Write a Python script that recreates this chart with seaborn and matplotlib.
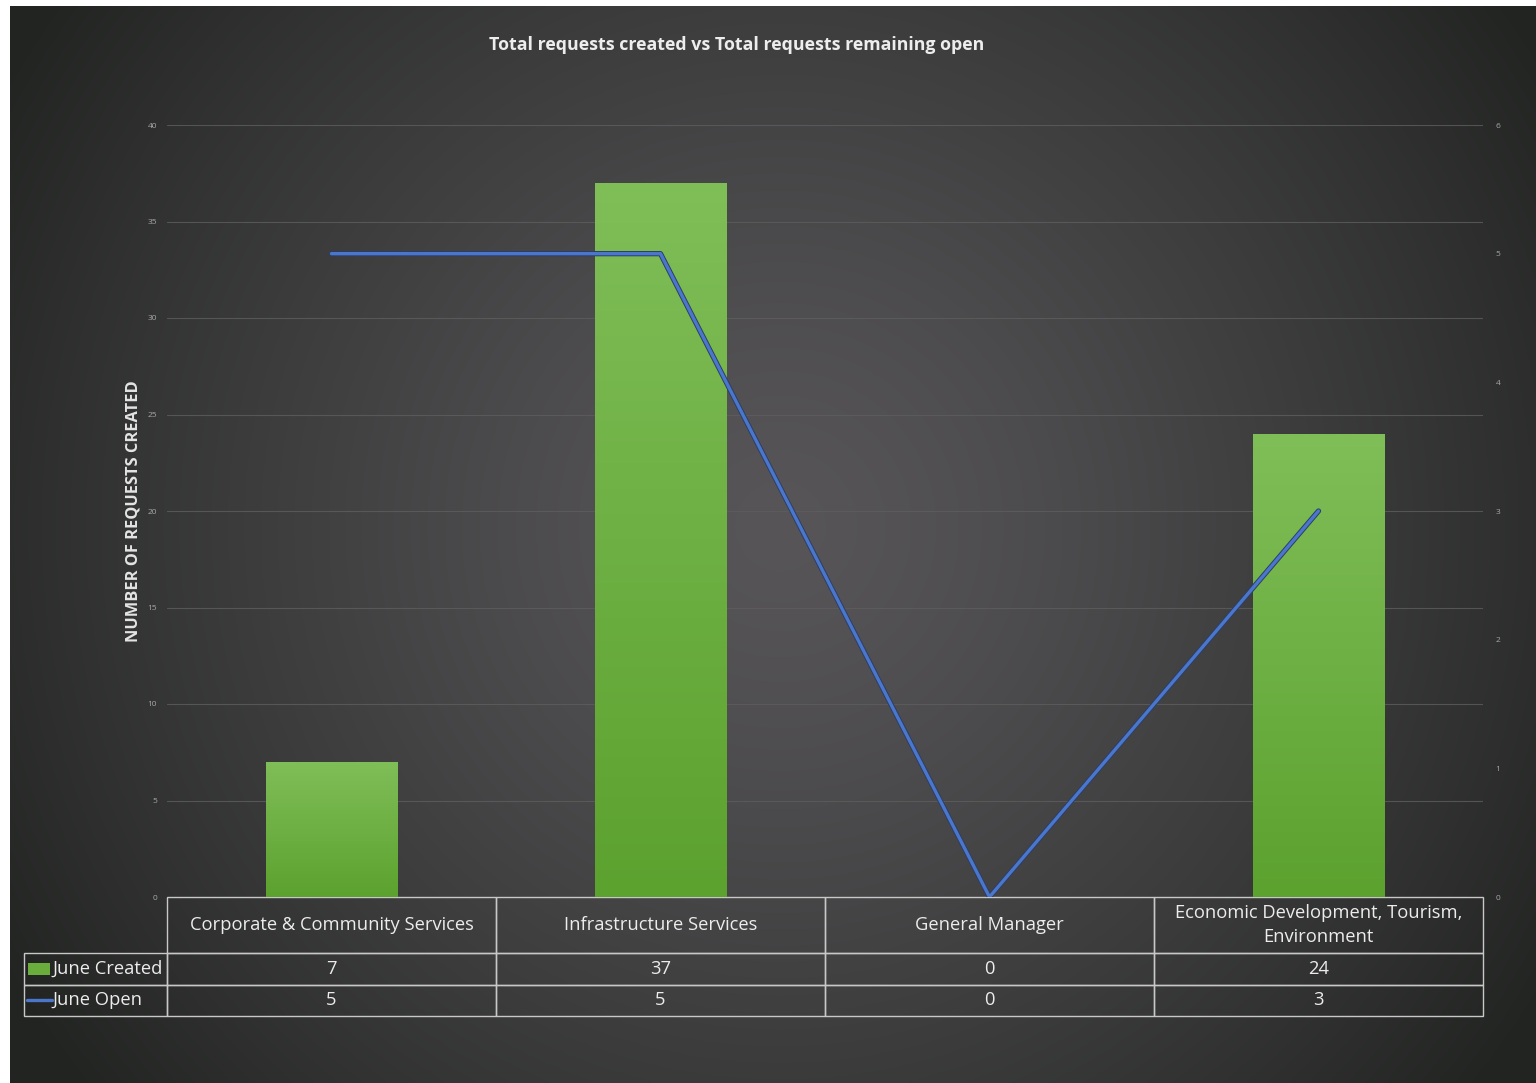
import numpy as np
import pandas as pd
import matplotlib.pyplot as plt
import matplotlib.patheffects as pe
import seaborn as sns
from matplotlib.patches import Rectangle
from matplotlib.lines import Line2D

# data
categories = ["Corporate & Community Services", "Infrastructure Services",
              "General Manager", "Economic Development, Tourism, Environment"]
col_labels = ["Corporate & Community Services", "Infrastructure Services",
              "General Manager", "Economic Development, Tourism,\nEnvironment"]
june_created = [7, 37, 0, 24]
june_open = [5, 5, 0, 3]
left_ticks = [0, 5, 10, 15, 20, 25, 30, 35, 40]
right_ticks = [0, 1, 2, 3, 4, 5, 6]
row_names = ["June Created", "June Open"]

df = pd.DataFrame({"category": categories, "created": june_created, "open": june_open})

sns.set_style("dark")
plt.rcParams['font.family'] = ['Open Sans', 'DejaVu Sans']

W, H = 1536, 1083
fig = plt.figure(figsize=(W / 100, H / 100), dpi=100, facecolor='white')

# dark radial background
bg = fig.add_axes([10 / W, 0, 1 - 10 / W, 1 - 6 / H])
yy, xx = np.mgrid[0:1077, 0:1526]
r = np.clip(np.hypot(xx - 770, yy - 520) / 900, 0, 1)
inner = np.array([0x57, 0x55, 0x58]) / 255
outer = np.array([0x22, 0x24, 0x22]) / 255
bg.imshow(inner + (outer - inner) * (r[..., None] ** 1.3), aspect='auto')
bg.axis('off')

# main axes
ax = fig.add_axes([167 / W, 1 - 897 / H, 1316 / W, 772 / H])
ax.set_facecolor('none')
sns.barplot(data=df, x="category", y="created", color="#6aad3d", width=0.4,
            saturation=1, linewidth=0, ax=ax, zorder=2)

# green gradient on the bars
grad = np.linspace(0, 1, 256)[:, None]
top_c = np.array([0x80, 0xbe, 0x58]) / 255
bot_c = np.array([0x5c, 0xa2, 0x2f]) / 255
grad_img = top_c + (bot_c - top_c) * grad[..., None]
for p in ax.patches:
    h = p.get_height()
    if h <= 0:
        continue
    x0 = p.get_x()
    im = ax.imshow(grad_img, extent=[x0, x0 + p.get_width(), 0, h],
                   aspect='auto', zorder=2.5)
    im.set_clip_path(p)

ax.set_xlim(-0.5, 3.5)
ax.set_ylim(0, 40)
ax.set_yticks(left_ticks)
ax.set_xticks([])
ax.set_xlabel("")
ax.tick_params(axis='y', labelsize=6, colors='#a8a8a8', length=0, pad=7)
ax.yaxis.grid(True, color='#5e5e5e', lw=0.8, alpha=0.8, zorder=0)
ax.set_axisbelow(True)
for s in ax.spines.values():
    s.set_visible(False)
ax.set_ylabel("NUMBER OF REQUESTS CREATED", fontsize=11.8, fontweight='bold',
              color='#e4e4e4')
ax.yaxis.set_label_coords((141 - 167) / 1316, 0.5)

# line on secondary axis
ax2 = ax.twinx()
sns.lineplot(x=np.arange(len(categories)), y=june_open, ax=ax2, color='#4a76cc',
             lw=2.4, sort=False, legend=False)
ax2.lines[0].set_path_effects([pe.Stroke(linewidth=3.8, foreground='#2c3e66'),
                               pe.Normal()])
ax2.set_ylim(0, 6)
ax2.set_yticks(right_ticks)
ax2.tick_params(axis='y', labelsize=6, colors='#a8a8a8', length=0, pad=9)
ax2.set_ylabel("")
for s in ax2.spines.values():
    s.set_visible(False)

# title
fig.text(737 / W, 1 - 45 / H, "Total requests created vs Total requests remaining open",
         ha='center', va='center', fontsize=12.8, fontweight='bold', color='#ededed')

# data table below the plot
cell_text = [[str(v) for v in june_created], [str(v) for v in june_open]]
hdr_h, row_h = 56 / 772, 31.5 / 772
tbl = ax.table(cellText=cell_text, rowLabels=row_names, colLabels=col_labels,
               cellLoc='center', rowLoc='left',
               bbox=[0, -(hdr_h + 2 * row_h), 1, hdr_h + 2 * row_h])
tbl.auto_set_font_size(False)
tbl.set_fontsize(13.2)
tbl._autoColumns = []  # keep the row-label column at a fixed width
for (row, col), cell in tbl.get_celld().items():
    cell.set_edgecolor('#c8c8c8')
    cell.set_facecolor('none')
    cell.set_linewidth(1)
    cell.get_text().set_color('#ececec')
    cell.get_text().set_linespacing(1.45)
    cell.set_height(hdr_h if row == 0 else row_h)
    if col == -1:
        cell.set_width(143 / 1316)
        cell.PAD = 0.2
    else:
        cell.set_width(0.25)

# legend keys inside the row-label cells
ax.add_patch(Rectangle(((28 - 167) / 1316, (897 - 975) / 772), 22 / 1316, 12 / 772,
                       facecolor='#6aad3d', edgecolor='none',
                       transform=ax.transAxes, clip_on=False))
ax.add_line(Line2D([(27 - 167) / 1316, (52 - 167) / 1316],
                   [(897 - 1000) / 772] * 2, color='#4a76cc', lw=2.4,
                   transform=ax.transAxes, clip_on=False))

fig.savefig("out.png", dpi=100, facecolor=fig.get_facecolor())
